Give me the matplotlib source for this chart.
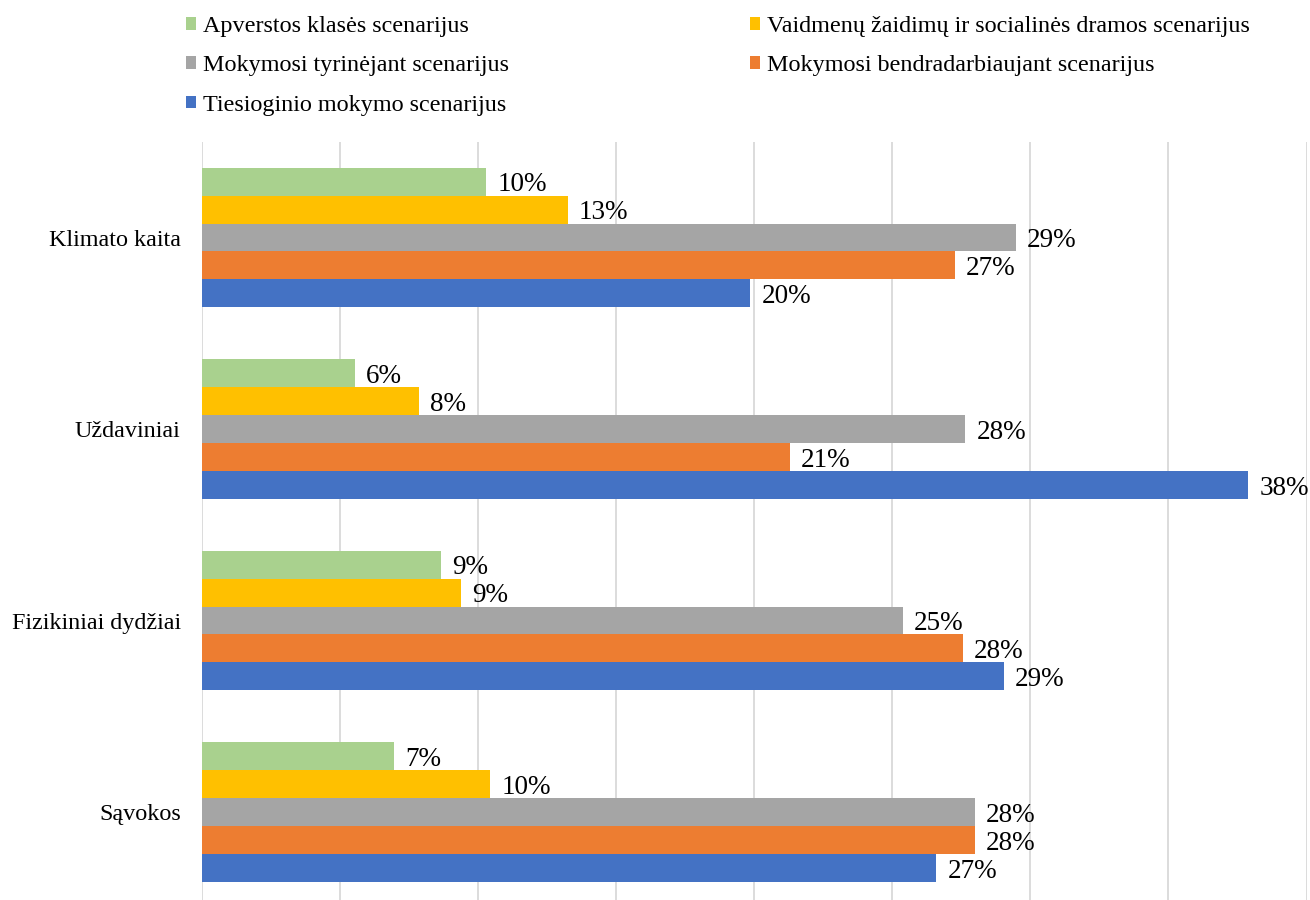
import numpy as np
import matplotlib.pyplot as plt
from matplotlib.patches import Patch

plt.rcParams['font.family'] = ['Liberation Serif', 'DejaVu Serif']

categories = ["Klimato kaita", "Uždaviniai", "Fizikiniai dydžiai", "Sąvokos"]

series_names = [
    "Apverstos klasės scenarijus",
    "Vaidmenų žaidimų ir socialinės dramos scenarijus",
    "Mokymosi tyrinėjant scenarijus",
    "Mokymosi bendradarbiaujant scenarijus",
    "Tiesioginio mokymo scenarijus",
]
series_colors = ["#A9D18E", "#FFC000", "#A5A5A5", "#ED7D31", "#4472C4"]

# percent per category, same order as categories
apverstos = [10.3, 5.55, 8.67, 6.97]
vaidmenu = [13.25, 7.88, 9.4, 10.45]
tyrinejant = [29.47, 27.65, 25.38, 28.0]
bendradarbiaujant = [27.26, 21.3, 27.55, 28.0]
tiesioginio = [19.87, 37.9, 29.04, 26.6]

values = [apverstos, vaidmenu, tyrinejant, bendradarbiaujant, tiesioginio]

W, H = 1310, 900
fig = plt.figure(figsize=(W / 100, H / 100), dpi=100)
ax = fig.add_axes([201.5 / W, (H - 907.75) / H, 1105 / W, 766 / H])

y = np.arange(len(categories))
bar_h = 0.1462
for j, (vals, name, col) in enumerate(zip(values, series_names, series_colors)):
    pos = y + (j - 2) * bar_h
    bars = ax.barh(pos, vals, height=bar_h, color=col, label=name, zorder=3)
    for rect, v in zip(bars, vals):
        ax.annotate(f"{v:.0f}%", (rect.get_width(), rect.get_y() + bar_h / 2),
                    xytext=(8, -2.5), textcoords="offset points",
                    ha="left", va="center", fontsize=19.5, color="#000000")

ax.set_xlim(0, 40)
ax.set_ylim(len(categories) - 0.5, -0.5)
ax.set_xticks(np.arange(0, 41, 5))
ax.set_xticklabels([])
ax.set_yticks(y)
ax.set_yticklabels(categories, fontsize=17.4)
ax.tick_params(axis="both", length=0)
ax.tick_params(axis="y", pad=15)
ax.grid(axis="x", color="#D9D9D9", linewidth=1.3, zorder=0)
for s in ax.spines.values():
    s.set_visible(False)

# legend order fills columns: left column green/gray/blue, right yellow/orange
order = [0, 2, 4, 1, 3]
handles = [Patch(facecolor=series_colors[i], label=series_names[i]) for i in order]
fig.legend(handles=handles, ncol=2, frameon=False, fontsize=17.4,
           loc="upper left", bbox_to_anchor=(186 / W, 1 - 16 / H),
           borderpad=0, borderaxespad=0, handlelength=0.42, handleheight=0.42,
           handletextpad=0.3, labelspacing=0.76, columnspacing=9.95)

fig.savefig("out.png", dpi=100)
